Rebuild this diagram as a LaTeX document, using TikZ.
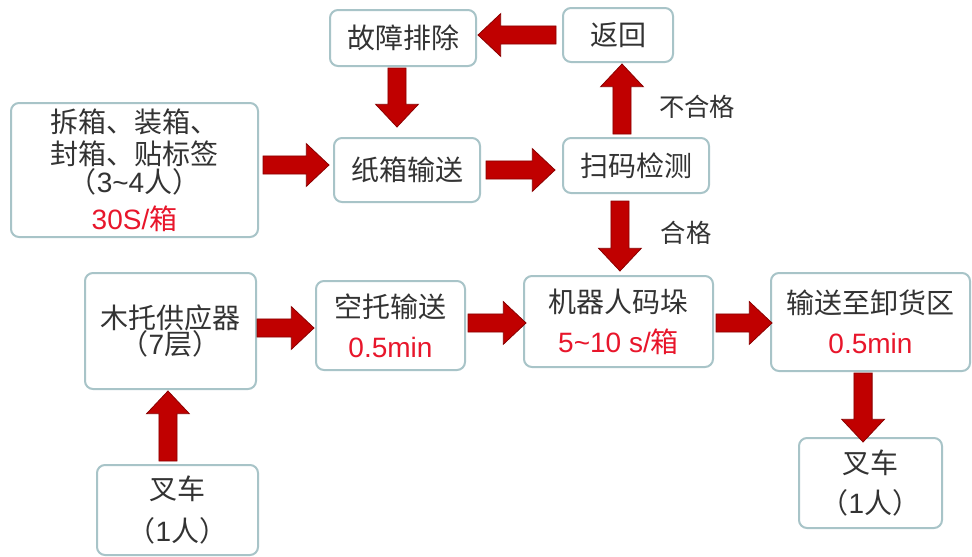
\documentclass[tikz,border=0pt]{standalone}
\usepackage{fontspec}
\setmainfont{Liberation Sans}
\newfontfamily\cjk{Noto Sans CJK SC}
\usetikzlibrary{calc}
\definecolor{boxline}{HTML}{A8C4C8}
\definecolor{arrfill}{HTML}{C00000}
\definecolor{arredge}{HTML}{8A0000}
\definecolor{txt}{HTML}{333333}
\definecolor{redtxt}{HTML}{E8162B}
\def\ahw{6.8pt}
\def\ahH{16pt}
\def\ahl{17pt}
\tikzset{
 box/.style={draw=boxline, line width=1.5pt, rounded corners=6pt, fill=white, align=center,
   text=txt, inner sep=0pt, font=\fontsize{21pt}{30pt}\selectfont},
 sz/.style 2 args={minimum width=#1*0.75pt, minimum height=#2*0.75pt},
 blk/.style={fill=arrfill, draw=arredge, line width=0.6pt},
 lbl/.style={text=txt, font=\fontsize{19pt}{22pt}\selectfont\cjk, inner sep=0pt},
}
\newcommand\hblock[2]{\draw[blk] let \p1=#1, \p2=#2, \n1={sign(\x2-\x1)}, \n2={\x2-\n1*\ahl} in
   ({\x1},{\y1+\ahw}) -- ({\n2},{\y1+\ahw}) -- ({\n2},{\y1+\ahH}) -- ({\x2},{\y1})
   -- ({\n2},{\y1-\ahH}) -- ({\n2},{\y1-\ahw}) -- ({\x1},{\y1-\ahw}) -- cycle;}
\newcommand\vblock[2]{\draw[blk] let \p1=#1, \p2=#2, \n1={sign(\y2-\y1)}, \n2={\y2-\n1*\ahl} in
   ({\x1+\ahw},{\y1}) -- ({\x1+\ahw},{\n2}) -- ({\x1+\ahH},{\n2}) -- ({\x1},{\y2})
   -- ({\x1-\ahH},{\n2}) -- ({\x1-\ahw},{\n2}) -- ({\x1-\ahw},{\y1}) -- cycle;}
\begin{document}
\begin{tikzpicture}[x=0.75pt, y=-0.75pt]
\useasboundingbox[fill=white] (0,0) rectangle (972,557);
% boxes
\node[box, sz={146}{56}] (gz) at (403,38) {{\cjk 故障排除}};
\node[box, sz={110}{54}] (fh) at (618,35) {{\cjk 返回}};
\node[box, sz={146}{64}] (zx) at (407,170) {{\cjk 纸箱输送}};
\node[box, sz={146}{55}] (sm) at (636,165.5) {{\cjk 扫码检测}};
\node[box, sz={247}{134}] (cx) at (134.5,170)
  {{\cjk 拆箱、装箱、}\\[-6pt]{\cjk 封箱、贴标签}\\[-9pt]{\cjk （}3\textasciitilde4{\cjk 人）}\\[-2pt]\textcolor{redtxt}{30S/{\cjk 箱}}};
\node[box, sz={171}{116}] (mt) at (170.5,331) {{\cjk 木托供应器}\\[-10pt]{\cjk （}7{\cjk 层）}};
\node[box, sz={149}{89}] (kt) at (390.5,325.5) {{\cjk 空托输送}\\\textcolor{redtxt}{0.5min}};
\node[box, sz={189}{91}] (jq) at (618.5,321.5) {{\cjk 机器人码垛}\\\textcolor{redtxt}{5\textasciitilde10 s/{\cjk 箱}}};
\node[box, sz={199}{98}] (ss) at (870.5,322) {{\cjk 输送至卸货区}\\\textcolor{redtxt}{0.5min}};
\node[box, sz={143}{90}] (cr) at (870.5,483) {{\cjk 叉车}\\{\cjk （}1{\cjk 人）}};
\node[box, sz={161}{90}] (cl) at (177.5,510) {{\cjk 叉车}\\[2pt]{\cjk （}1{\cjk 人）}};
% labels
\node[lbl] (bhg) at (697,107) {不合格};
\node[lbl] (hg) at (686,233) {合格};
% arrows
\hblock{([xshift=-4.5pt]fh.west)}{([xshift=0.75pt]fh.west -| gz.east)}
\vblock{([xshift=-4.5pt,yshift=-0.75pt]gz.south)}{([yshift=7.5pt]gz.south |- zx.north)}
\hblock{([xshift=3pt,yshift=3.75pt]cx.east)}{([xshift=-3pt,yshift=3.75pt]cx.east -| zx.west)}
\hblock{([xshift=3.75pt]zx.east)}{([xshift=-5.25pt]zx.east -| sm.west)}
\vblock{([xshift=3pt,yshift=2.25pt]fh.south |- sm.north)}{([yshift=-0.75pt]fh.south)}
\vblock{([xshift=1.1pt,yshift=-5.25pt]jq.north |- sm.south)}{([yshift=3pt]jq.north)}
\hblock{([yshift=2.25pt]mt.east)}{([xshift=-0.75pt,yshift=2.25pt]mt.east -| kt.west)}
\hblock{([xshift=1.5pt,yshift=1.9pt]kt.east)}{([xshift=2.25pt,yshift=1.9pt]kt.east -| jq.west)}
\hblock{([xshift=1.5pt,yshift=-1.1pt]jq.east)}{([xshift=1.5pt,yshift=-1.1pt]jq.east -| ss.west)}
\vblock{([xshift=-5.6pt,yshift=-0.75pt]ss.south)}{([yshift=-3.75pt]ss.south |- cr.north)}
\vblock{([xshift=-1.9pt,yshift=2.25pt]mt.south |- cl.north)}{([yshift=-0.75pt]mt.south)}
\end{tikzpicture}
\end{document}
